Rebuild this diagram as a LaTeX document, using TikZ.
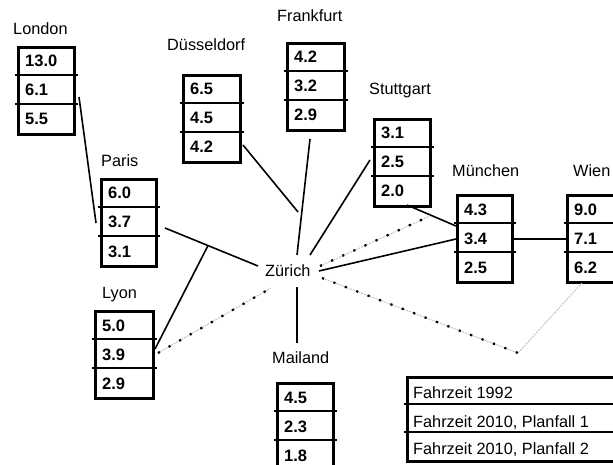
\documentclass[tikz,border=0pt]{standalone}
\usepackage{fontspec}
\setmainfont{Liberation Sans}
\newcommand\stationbox[7]{%
  \node[boxframe, minimum width=#4pt] (#1) at (#2,#3) {};
  \draw[divider] ([xshift=-2pt,yshift=-29pt]#1.north west) -- ([xshift=2pt,yshift=-29pt]#1.north east);
  \draw[divider] ([xshift=-2pt,yshift=-58pt]#1.north west) -- ([xshift=2pt,yshift=-58pt]#1.north east);
  \node[num] (#1-a) at ([xshift=8pt,yshift=-21pt]#1.north west) {#5};
  \node[num] (#1-b) at ([xshift=8pt,yshift=-50pt]#1.north west) {#6};
  \node[num] (#1-c) at ([xshift=8pt,yshift=-79pt]#1.north west) {#7};
}
\begin{document}
\begin{tikzpicture}[x=1pt,y=-1pt,
  boxframe/.style={draw, line width=3pt, minimum height=87pt, inner sep=0pt, anchor=north west},
  divider/.style={line width=1.2pt},
  num/.style={anchor=base west, font=\fontsize{16.5}{19}\selectfont\bfseries, inner sep=0pt},
  city/.style={anchor=base west, font=\fontsize{16.3}{19}\selectfont, inner sep=0pt},
  legendtext/.style={anchor=base west, font=\fontsize{16.3}{19}\selectfont, inner sep=0pt},
  link/.style={line width=1.6pt},
  planline/.style={gray!55, line width=0.8pt, dash pattern=on 2pt off 1pt},
  plandots/.style={black, line width=2.2pt, dash pattern=on 2.2pt off 10pt},
]
\useasboundingbox (0,0) rectangle (613,465);

% city labels
\node[city] (lLondon) at (13,35) {London};
\node[city] (lDuss) at (167,51) {Düsseldorf};
\node[city] (lFrank) at (277,22) {Frankfurt};
\node[city] (lStutt) at (369,95) {Stuttgart};
\node[city] (lMuen) at (452,177) {München};
\node[city] (lWien) at (573,177) {Wien};
\node[city] (lParis) at (101,167) {Paris};
\node[city] (lLyon) at (102,298) {Lyon};
\node[city] (lMail) at (272,363) {Mailand};
\node[city] (zurich) at (265,276) {Zürich};

% boxes
\stationbox{London}{17}{46}{56}{13.0}{6.1}{5.5}
\stationbox{Duss}{182}{74}{57}{6.5}{4.5}{4.2}
\stationbox{Frank}{286}{42}{57}{4.2}{3.2}{2.9}
\stationbox{Stutt}{373}{118}{56}{3.1}{2.5}{2.0}
\stationbox{Muen}{456}{194}{55}{4.3}{3.4}{2.5}
\stationbox{Wien}{566}{194}{62}{9.0}{7.1}{6.2}
\stationbox{Paris}{100}{178}{55}{6.0}{3.7}{3.1}
\stationbox{Lyon}{94}{310}{58}{5.0}{3.9}{2.9}
\stationbox{Mail}{276}{382}{56}{4.5}{2.3}{1.8}

% legend
\node[boxframe, minimum width=220pt, minimum height=84pt] (legend) at (406,376) {};
\draw[divider] ([xshift=-2pt,yshift=-28pt]legend.north west) -- ([yshift=-28pt]legend.north east);
\draw[divider] ([xshift=-2pt,yshift=-56pt]legend.north west) -- ([yshift=-56pt]legend.north east);
\node[legendtext] (leg1) at (413,398) {Fahrzeit 1992};
\node[legendtext] (leg2) at (413,427) {Fahrzeit 2010, Planfall 1};
\node[legendtext] (leg3) at (413,454) {Fahrzeit 2010, Planfall 2};

% connector ends
\coordinate (cLon) at (79,97);
\coordinate (cParW) at (96,223);
\coordinate (cParE) at (165,228);
\coordinate (cZw) at (258,266);
\coordinate (cJ) at (208,245.6);
\coordinate (cLyon) at (155,349);
\coordinate (cDuss) at (243,145);
\coordinate (cDussZ) at (298,212);
\coordinate (cFrank) at (310,139);
\coordinate (cZn) at (297,255);
\coordinate (cStutt) at (370,160);
\coordinate (cZne) at (310,255);
\coordinate (cStuttS) at (407,205);
\coordinate (cMuenA) at (456,226);
\coordinate (cZe) at (319,271);
\coordinate (cMuenB) at (456,239);
\coordinate (cMuenE) at (511,239);
\coordinate (cWienW) at (566,239);
\coordinate (cZs) at (297,287);
\coordinate (cMail) at (297,343);

\draw[link] (cLon) -- (cParW);
\draw[link] (cParE) -- (cZw);
\draw[link] (cJ) -- (cLyon);
\draw[link] (cDuss) -- (cDussZ);
\draw[link] (cFrank) -- (cZn);
\draw[link] (cStutt) -- (cZne);
\draw[link] (cStuttS) -- (cMuenA);
\draw[link] (cZe) -- (cMuenB);
\draw[link] (cMuenE) -- (cWienW);
\draw[link] (cZs) -- (cMail);

% planned (dotted) connectors
\coordinate (dLyon) at (158,353);
\coordinate (dZsw) at (271,288);
\coordinate (dZne) at (320,266);
\coordinate (dMuen) at (430,216);
\coordinate (dZse) at (322,278);
\coordinate (dV) at (518,353);
\coordinate (dWien) at (582,283);

\draw[planline] (dLyon) -- (dZsw);
\draw[plandots] (dLyon) -- (dZsw);
\draw[planline] (dZne) -- (dMuen);
\draw[plandots] (dZne) -- (dMuen);
\draw[planline] (dZse) -- (dV) -- (dWien);
\draw[plandots] (dZse) -- (dV);
\end{tikzpicture}
\end{document}
